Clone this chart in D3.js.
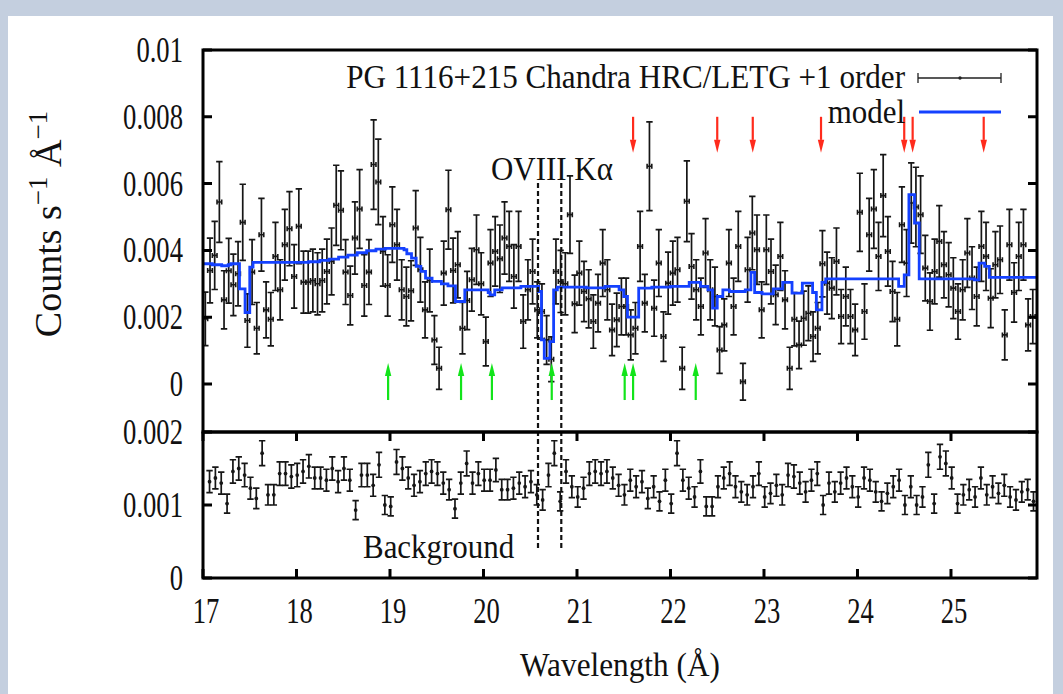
<!DOCTYPE html>
<html><head><meta charset="utf-8">
<script src="https://cdn.jsdelivr.net/npm/d3@7"></script>
<style>
html,body{margin:0;padding:0;background:#c4cfdf;}
svg{display:block;}
text{font-family:"Liberation Serif","Times New Roman",serif;fill:#111;}
</style></head><body>
<svg id="c" width="1063" height="694"></svg>
<script>
// ---------- DATA (flux in units of 1e-3 counts s^-1 A^-1) ----------
const binStart = 17.025, binWidth = 0.05;          // source spectrum bins (A)
const fluxTop = [1.95,3.40,3.85,5.45,2.52,3.39,2.97,3.30,4.84,1.90,3.35,1.67,4.47,2.22,1.94,3.82,2.82,4.17,4.65,3.22,
4.72,3.05,3.05,3.10,3.00,3.10,3.37,3.67,5.35,5.20,3.35,2.65,4.37,5.24,2.95,3.35,6.57,6.05,3.97,2.95,
4.77,4.17,2.82,2.62,2.79,4.67,3.42,2.22,3.10,1.32,0.47,3.32,5.22,3.40,3.57,1.67,2.50,3.12,4.02,3.00,
1.27,3.62,3.97,3.75,4.37,4.12,3.22,4.12,1.87,2.82,3.37,2.22,2.17,1.32,0.74,3.37,3.07,3.00,5.07,2.40,
3.32,2.77,2.55,1.87,2.42,3.62,2.82,1.62,1.92,2.32,2.32,1.47,1.67,4.12,2.42,6.52,2.27,3.62,1.42,3.02,
3.32,3.42,0.47,5.47,3.52,2.82,2.32,3.92,2.82,2.62,1.02,1.77,3.62,2.32,4.12,0.07,3.42,4.52,4.02,2.22,
4.02,3.37,2.67,3.82,2.52,0.47,1.94,1.17,1.97,2.12,1.42,1.67,3.60,3.02,2.87,3.67,2.02,2.62,2.02,1.62,
5.14,2.17,4.47,5.24,3.82,5.64,3.97,2.77,1.94,4.77,3.62,5.42,5.30,5.07,3.47,2.47,3.37,4.27,3.57,3.27,
2.87,2.17,2.82,3.92,3.17,2.62,4.12,3.82,2.57,3.57,3.72,1.47,4.17,2.74,3.82,4.17,1.77,2.02];
const errTop = [0.80,0.97,1.02,1.21,0.87,0.97,0.92,0.96,1.14,0.80,0.97,0.77,1.09,0.84,0.80,1.02,0.90,1.06,1.11,0.95,
1.12,0.93,0.93,0.94,0.93,0.94,0.97,1.00,1.20,1.18,0.97,0.88,1.08,1.18,0.92,0.97,1.34,1.28,1.04,0.92,
1.13,1.06,0.90,0.88,0.90,1.12,0.97,0.84,0.94,0.73,0.63,0.96,1.18,0.97,0.99,0.77,0.87,0.94,1.04,0.93,
0.73,1.00,1.04,1.01,1.08,1.05,0.95,1.05,0.80,0.90,0.97,0.84,0.83,0.73,0.67,0.97,0.93,0.93,1.16,0.86,
0.96,0.90,0.87,0.80,0.86,1.00,0.90,0.77,0.80,0.85,0.85,0.75,0.77,1.05,0.86,1.33,0.84,1.00,0.74,0.93,
0.96,0.97,0.63,1.21,0.98,0.90,0.85,1.03,0.90,0.88,0.70,0.78,1.00,0.85,1.05,0.55,0.97,1.10,1.04,0.84,
1.04,0.97,0.89,1.02,0.87,0.63,0.80,0.71,0.81,0.82,0.74,0.77,0.99,0.93,0.91,1.00,0.81,0.88,0.81,0.77,
1.17,0.83,1.09,1.18,1.02,1.23,1.04,0.90,0.80,1.13,1.00,1.20,1.19,1.16,0.98,0.86,0.97,1.07,0.99,0.96,
0.91,0.83,0.90,1.03,0.94,0.88,1.05,1.02,0.88,0.99,1.01,0.75,1.06,0.89,1.02,1.06,0.78,0.81];
// model (step function, value holds from each wavelength to the next)
const modelWave = [17.00,17.10,17.20,17.27,17.30,17.39,17.45,17.50,17.535,18.13,18.25,18.35,18.45,18.55,18.65,18.75,18.85,18.95,19.15,19.18,
19.23,19.28,19.33,19.38,19.45,19.55,19.62,19.70,19.80,20.05,20.07,20.12,20.20,20.40,20.59,20.62,20.65,20.71,20.75,20.79,
21.10,21.30,21.45,21.50,21.54,21.66,21.80,22.00,22.20,22.32,22.40,22.45,22.50,22.56,22.63,22.80,22.86,22.90,22.98,23.10,
23.20,23.30,23.41,23.52,23.56,23.62,23.66,24.44,24.50,24.55,24.61,24.66,25.25,25.30,25.36,25.41,25.92];
const modelFlux = [3.60,3.57,3.54,3.57,3.60,2.85,2.14,3.50,3.64,3.66,3.70,3.74,3.80,3.86,3.93,3.99,4.04,4.06,4.02,3.90,
3.77,3.52,3.37,3.17,3.07,3.00,2.94,2.47,2.82,2.74,2.67,2.82,2.88,2.92,2.77,1.32,0.77,1.27,2.82,2.90,
2.88,2.92,2.82,2.62,2.00,2.87,2.90,2.92,3.04,2.92,2.82,2.27,2.62,2.82,2.77,2.82,3.34,2.74,2.70,2.85,
3.04,2.72,3.02,2.74,2.22,3.04,3.15,2.92,3.27,5.67,4.82,3.15,3.12,3.62,3.52,3.19,3.19];
// background spectrum
const bkgStart = 17.07, bkgWidth = 0.0625;
const fluxBkg = [1.32,1.37,1.30,1.02,1.46,1.50,1.41,1.23,1.09,1.71,1.14,1.14,1.43,1.43,1.39,1.41,1.46,1.53,1.37,1.37,
1.34,1.50,1.32,1.50,1.34,0.93,1.41,1.41,1.27,1.55,1.00,0.98,1.59,1.50,1.37,1.27,1.32,1.43,1.46,1.43,
1.30,1.21,0.95,1.30,1.57,1.30,1.43,1.34,1.34,1.48,1.21,1.21,1.23,1.30,1.25,1.32,1.14,1.07,1.41,1.71,
1.05,1.46,1.25,1.11,1.23,1.43,1.46,1.43,1.46,1.37,1.27,1.14,1.34,1.25,1.32,1.09,1.25,1.05,1.34,1.02,
1.71,1.34,1.23,1.11,1.46,0.98,0.98,1.25,1.37,1.43,1.25,1.18,1.14,1.25,1.43,1.11,1.16,1.27,1.14,1.41,
1.39,1.30,1.18,1.34,1.43,1.00,1.30,1.18,1.30,1.37,1.25,1.11,1.37,1.34,1.18,1.05,1.16,1.25,1.34,1.00,
1.25,1.00,1.11,1.55,1.02,1.66,1.57,1.37,1.02,1.14,1.21,1.11,1.37,1.14,1.25,1.16,1.27,1.11,1.07,1.18,
1.21,1.05];
const errBkg = [0.15,0.15,0.15,0.13,0.16,0.16,0.16,0.15,0.14,0.17,0.14,0.14,0.16,0.16,0.16,0.16,0.16,0.16,0.15,0.15,
0.15,0.16,0.15,0.16,0.15,0.13,0.16,0.16,0.15,0.17,0.13,0.13,0.17,0.16,0.15,0.15,0.15,0.16,0.16,0.16,
0.15,0.14,0.13,0.15,0.17,0.15,0.16,0.15,0.15,0.16,0.14,0.14,0.15,0.15,0.15,0.15,0.14,0.14,0.16,0.17,
0.13,0.16,0.15,0.14,0.15,0.16,0.16,0.16,0.16,0.15,0.15,0.14,0.15,0.15,0.15,0.14,0.15,0.13,0.15,0.13,
0.17,0.15,0.15,0.14,0.16,0.13,0.13,0.15,0.15,0.16,0.15,0.14,0.14,0.15,0.16,0.14,0.14,0.15,0.14,0.16,
0.16,0.15,0.14,0.15,0.16,0.13,0.15,0.14,0.15,0.15,0.15,0.14,0.15,0.15,0.14,0.13,0.14,0.15,0.15,0.13,
0.15,0.13,0.14,0.17,0.13,0.17,0.17,0.15,0.13,0.14,0.14,0.14,0.15,0.14,0.15,0.14,0.15,0.14,0.14,0.14,
0.14,0.13];
// line markers
const redArrows = [21.60,22.50,22.88,23.61,24.50,24.59,25.35];
const greenArrows = [18.98,19.76,20.09,20.73,21.51,21.60,22.27];
const ovLines = [20.583,20.832];
// axes
const xTicks = [17,18,19,20,21,22,23,24,25];
const xTickLabels = ["17","18","19","20","21","22","23","24","25"];
const yTopTicks = [0,2,4,6,8,10];
const yTopLabels = ["0","0.002","0.004","0.006","0.008","0.01"];
const yBotTicks = [0,1,2];
const yBotLabels = ["0","0.001","0.002"];
const legendData = "PG 1116+215 Chandra HRC/LETG +1 order";
const legendModel = "model";

// ---------- DRAW ----------
const svg = d3.select("#c");
svg.append("rect").attr("x",8).attr("y",16).attr("width",1045).attr("height",680).attr("fill","#fff");

const L=203, R=1037, T=50, M=432, B=578;
const x = d3.scaleLinear().domain([17,25.92]).range([L,R]);
const yT = d3.scaleLinear().domain([0,10]).range([384,T]);
const yB = d3.scaleLinear().domain([0,2]).range([B,M]);

svg.append("clipPath").attr("id","cpT").append("rect").attr("x",L).attr("y",T).attr("width",R-L).attr("height",M-T);
svg.append("clipPath").attr("id","cpB").append("rect").attr("x",L).attr("y",M).attr("width",R-L).attr("height",B-M);

const ink = "#161616";
// top spectrum
const topData = fluxTop.map((v,i)=>({w: binStart+binWidth*i, v, e: errTop[i]}));
const gT = svg.append("g").attr("clip-path","url(#cpT)").attr("fill","none");
const pts = gT.selectAll("g.p").data(topData).join("g").attr("class","p");
pts.append("path").attr("stroke",ink).attr("stroke-width",1.7).attr("d", d=>{
  const cx = x(d.w), y0 = yT(d.v - d.e), y1 = yT(d.v + d.e);
  return `M${cx},${y0}V${y1}M${cx-3.2},${y1}H${cx+3.2}M${cx-3.2},${y0}H${cx+3.2}`;
});
pts.append("path").attr("stroke",ink).attr("stroke-width",1.6).attr("d", d=>{
  const cy = yT(d.v), xl = x(d.w - binWidth/2), xr = x(d.w + binWidth/2);
  return `M${xl},${cy}H${xr}M${xl},${cy-2.5}V${cy+2.5}M${xr},${cy-2.5}V${cy+2.5}`;
});

// model
const modelPts = modelWave.map((w,i)=>[w, modelFlux[i]]);
gT.append("path").datum(modelPts)
  .attr("d", d3.line().x(d=>x(d[0])).y(d=>yT(d[1])).curve(d3.curveStepAfter))
  .attr("stroke","#1441ff").attr("stroke-width",2.8).attr("fill","none");

// background
const bkgData = fluxBkg.map((v,i)=>({w: bkgStart+bkgWidth*i, v, e: errBkg[i]}));
const gB = svg.append("g").attr("clip-path","url(#cpB)").attr("stroke",ink).attr("stroke-width",1.7).attr("fill","none");
const bp = gB.selectAll("g.b").data(bkgData).join("g").attr("class","b");
bp.append("path").attr("d", d=>{
  const cx = x(d.w), y0 = yB(d.v - d.e), y1 = yB(d.v + d.e);
  return `M${cx},${y0}V${y1}M${cx-3.2},${y1}H${cx+3.2}M${cx-3.2},${y0}H${cx+3.2}`;
});
bp.append("circle").attr("cx",d=>x(d.w)).attr("cy",d=>yB(d.v)).attr("r",1.9).attr("fill",ink).attr("stroke","none");

// dashed OVIII lines
svg.append("g").selectAll("line").data(ovLines).join("line")
  .attr("x1",d=>x(d)).attr("x2",d=>x(d)).attr("y1",yT(6.02)).attr("y2",yB(0.38))
  .attr("stroke","#111").attr("stroke-width",2.2).attr("stroke-dasharray","5,3");

// arrows
function arrow(g, wx, yTail, yTip, color){
  const cx = x(wx), dir = yTip > yTail ? 1 : -1, hl = 13, hw = 3.2;
  g.append("line").attr("x1",cx).attr("x2",cx).attr("y1",yTail).attr("y2",yTip - dir*hl)
    .attr("stroke",color).attr("stroke-width",2.2);
  g.append("path").attr("d",`M${cx-hw},${yTip-dir*hl}L${cx+hw},${yTip-dir*hl}L${cx},${yTip}Z`).attr("fill",color);
}
const gA = svg.append("g");
redArrows.forEach(w=>arrow(gA, w, yT(8.0), yT(6.92), "#ff2b1c"));
greenArrows.forEach(w=>arrow(gA, w, yT(-0.48), yT(0.63), "#12e41a"));

// frames & ticks
const gF = svg.append("g").attr("stroke","#000").attr("stroke-width",3).attr("fill","none");
gF.append("rect").attr("x",L).attr("y",T).attr("width",R-L).attr("height",M-T);
gF.append("rect").attr("x",L).attr("y",M).attr("width",R-L).attr("height",B-M);
const tl = 9;
yTopTicks.forEach(t=>{ const y=yT(t); gF.append("path").attr("d",`M${L},${y}h${tl}M${R},${y}h${-tl}`); });
yBotTicks.forEach(t=>{ const y=yB(t); gF.append("path").attr("d",`M${L},${y}h${tl}M${R},${y}h${-tl}`); });
xTicks.forEach(t=>{ const xx=x(t); gF.append("path").attr("d",`M${xx},${M}v${tl}M${xx},${B}v${-tl}`); });

// text helper (condensed serif like the original)
function txt(str, px, py, size, sx, anchor){
  return svg.append("text")
    .attr("transform",`translate(${px},${py}) scale(${sx},1)`)
    .attr("font-size",size).attr("text-anchor",anchor||"start").text(str);
}
const numSize = 36, numSx = 0.74;
yTopTicks.forEach((t,i)=>txt(yTopLabels[i], 183, yT(t)+12, numSize, numSx, "end"));
txt(yBotLabels[0], 183, yB(0)+12, numSize, numSx, "end");
txt(yBotLabels[1], 183, yB(1)+12, numSize, numSx, "end");
txt(yBotLabels[2], 183, M+12, numSize, numSx, "end");
xTicks.forEach((t,i)=>txt(xTickLabels[i], x(t)+3, 623, numSize, numSx, "middle"));

const lblSize = 34, lblSx = 0.91;
txt("Wavelength (Å)", 620, 676, lblSize, 0.92, "middle");
const yl = svg.append("text").attr("transform",`translate(61,224) rotate(-90) scale(1.0,1)`)
  .attr("font-size",38).attr("text-anchor","middle");
yl.append("tspan").text("Counts s");
yl.append("tspan").attr("dy",-14).attr("font-size",27).text("−1");
yl.append("tspan").attr("dy",14).text(" Å");
yl.append("tspan").attr("dy",-14).attr("font-size",27).text("−1");

txt(legendData, 905, 88, lblSize, 0.915, "end");
txt(legendModel, 905, 123, lblSize, lblSx, "end");
txt("OVIII Kα", 491, 180, lblSize, lblSx, "start");
txt("Background", 363, 558, lblSize, lblSx, "start");

// legend samples
const gL = svg.append("g");
gL.append("path").attr("d","M918,78H1001M918,73V83M1001,73V83").attr("stroke","#222").attr("stroke-width",1.3).attr("fill","none");
gL.append("circle").attr("cx",960).attr("cy",78).attr("r",1.7).attr("fill","#222");
gL.append("line").attr("x1",919).attr("x2",1001).attr("y1",112).attr("y2",112).attr("stroke","#1441ff").attr("stroke-width",2.8);
</script></body></html>
